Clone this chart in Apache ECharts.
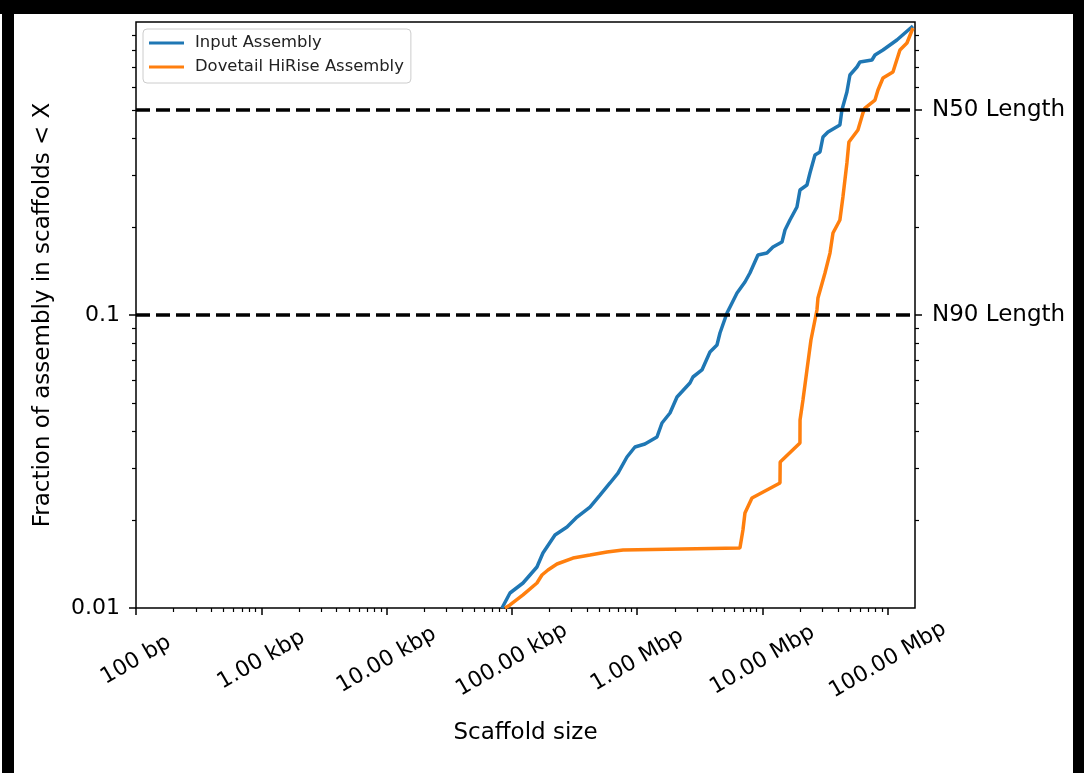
<!DOCTYPE html>
<html><head><meta charset="utf-8">
<script src="https://cdn.jsdelivr.net/npm/echarts@6/dist/echarts.min.js"></script>
<style>html,body{margin:0;padding:0;background:#fff;}#c{width:1084px;height:773px;}</style>
</head><body><div id="c"></div>
<script>
const seriesNames = ['Input Assembly', 'Dovetail HiRise Assembly'];
const inputSize = [83400, 96600, 122700, 158500, 177000, 220800, 275400, 331000, 420000, 505000, 607000, 703000, 829000, 960000, 1153000, 1439000, 1578000, 1828000, 2080000, 2637000, 2788000, 3289000, 3811000, 4335000, 4581000, 5212000, 5508000, 6266000, 7249000, 7943000, 9204000, 10860000, 12130000, 14320000, 15130000, 16570000, 18850000, 19920000, 22650000, 23940000, 26250000, 28780000, 30410000, 33340000, 41500000, 43060000, 47210000, 49890000, 56750000, 59980000, 74820000, 79070000, 91600000, 118300000, 137100000, 158900000];
const inputFrac = [0.0100, 0.01125, 0.01217, 0.0138, 0.01541, 0.01775, 0.0189, 0.02044, 0.02211, 0.0243, 0.02671, 0.02888, 0.03276, 0.03544, 0.03628, 0.03833, 0.0428, 0.0463, 0.0525, 0.05861, 0.06143, 0.06491, 0.07476, 0.079, 0.08682, 0.1016, 0.1065, 0.1189, 0.1296, 0.1391, 0.1602, 0.1627, 0.1706, 0.1774, 0.195, 0.211, 0.2337, 0.2671, 0.2778, 0.3052, 0.3517, 0.36, 0.4051, 0.4212, 0.4452, 0.5008, 0.5768, 0.6593, 0.7022, 0.7302, 0.7418, 0.7716, 0.8026, 0.868, 0.9173, 0.969];
const hiriseSize = [88100, 96600, 122700, 158500, 173800, 194100, 229100, 307400, 420000, 574100, 770900, 6610000, 6985000, 7249000, 8245000, 13800000, 13850000, 19920000, 19950000, 21050000, 22650000, 24380000, 27220000, 27730000, 31550000, 34590000, 36550000, 41500000, 43870000, 47210000, 48980000, 57810000, 63390000, 65770000, 79070000, 83560000, 91600000, 110000000, 125100000, 142300000, 158900000];
const hiriseFrac = [0.0100, 0.01024, 0.01108, 0.01217, 0.01296, 0.01348, 0.01413, 0.01481, 0.01516, 0.01553, 0.01578, 0.01603, 0.01846, 0.0211, 0.02374, 0.02671, 0.03148, 0.03657, 0.04382, 0.05128, 0.06491, 0.08216, 0.104, 0.1143, 0.1391, 0.1627, 0.1905, 0.211, 0.2527, 0.3303, 0.3894, 0.428, 0.4891, 0.5087, 0.5416, 0.5859, 0.6441, 0.6752, 0.8026, 0.848, 0.9539];
const xTickValues = [1e2, 1e3, 1e4, 1e5, 1e6, 1e7, 1e8];
const xTickLabels = ['100 bp', '1.00 kbp', '10.00 kbp', '100.00 kbp', '1.00 Mbp', '10.00 Mbp', '100.00 Mbp'];
const yTickValues = [0.01, 0.1];
const yTickLabels = ['0.01', '0.1'];
const refValues = [0.5, 0.1];
const refLabels = ['N50 Length', 'N90 Length'];
const xRange = [100, 1.65e8];
const yRange = [0.01, 1];

function minorTicks(loExp, hiExp, exclude) {
  const out = [];
  for (let e = loExp; e < hiExp; e++) {
    for (let k = 2; k <= 9; k++) {
      const v = k * Math.pow(10, e);
      if (!exclude || !exclude.some(x => Math.abs(Math.log10(x) - Math.log10(v)) < 1e-6)) out.push(v);
    }
  }
  return out;
}
function lookup(vals, labels) {
  return function (v) {
    for (let i = 0; i < vals.length; i++) {
      if (Math.abs(Math.log10(v) - Math.log10(vals[i])) < 1e-6) return labels[i];
    }
    return '';
  };
}
const FONT = 'DejaVu Sans';
const chart = echarts.init(document.getElementById('c'), null, {renderer: 'canvas'});
const baseX = {type: 'log', logBase: 10, min: xRange[0], max: xRange[1], position: 'bottom', gridIndex: 0,
  axisLine: {show: false}, splitLine: {show: false}, minorTick: {show: false}};
const baseY = {type: 'log', logBase: 10, min: yRange[0], max: yRange[1], gridIndex: 0,
  axisLine: {show: false}, splitLine: {show: false}, minorTick: {show: false}};
const option = {
  animation: false,
  backgroundColor: '#fff',
  textStyle: {fontFamily: FONT},
  grid: {left: 136, right: 169, top: 22, bottom: 165, show: true, borderColor: '#000', borderWidth: 1.5,
    backgroundColor: 'transparent', containLabel: false, outerBoundsMode: 'none'},
  legend: {
    data: seriesNames, orient: 'vertical', left: 143, top: 29,
    icon: 'rect', itemWidth: 35, itemHeight: 3, itemGap: 8,
    padding: [6, 7, 8, 6], borderColor: '#cccccc', borderWidth: 1, borderRadius: 4,
    backgroundColor: 'rgba(255,255,255,0.8)',
    textStyle: {fontFamily: FONT, fontSize: 16.4, color: '#222', lineHeight: 16, padding: [0, 0, 0, 6]}
  },
  xAxis: [
    Object.assign({}, baseX, {
      name: 'Scaffold size', nameLocation: 'middle', nameGap: 125,
      nameTextStyle: {fontFamily: FONT, fontSize: 23, color: '#000', align: 'center', verticalAlign: 'middle'},
      axisTick: {show: true, length: 7, lineStyle: {color: '#000', width: 1.5}, customValues: xTickValues},
      axisLabel: {show: true, customValues: xTickValues, formatter: lookup(xTickValues, xTickLabels),
        rotate: 30, align: 'center', verticalAlign: 'middle', margin: 52,
        fontFamily: FONT, fontSize: 22, color: '#000'}
    }),
    Object.assign({}, baseX, {
      axisTick: {show: true, length: 4, lineStyle: {color: '#000', width: 1.2}, customValues: minorTicks(2, 9)},
      axisLabel: {show: false}
    })
  ],
  yAxis: [
    Object.assign({}, baseY, {
      position: 'left',
      name: 'Fraction of assembly in scaffolds < X', nameLocation: 'middle', nameGap: 93, nameRotate: 90,
      nameTextStyle: {fontFamily: FONT, fontSize: 23, color: '#000', align: 'center', verticalAlign: 'middle'},
      axisTick: {show: true, length: 7, lineStyle: {color: '#000', width: 1.5}, customValues: yTickValues},
      axisLabel: {show: true, customValues: yTickValues, formatter: lookup(yTickValues, yTickLabels),
        margin: 16, fontFamily: FONT, fontSize: 22, color: '#000'}
    }),
    Object.assign({}, baseY, {
      position: 'left',
      axisTick: {show: true, length: 4, lineStyle: {color: '#000', width: 1.2}, customValues: minorTicks(-2, 0)},
      axisLabel: {show: false}
    }),
    Object.assign({}, baseY, {
      position: 'right',
      axisTick: {show: true, length: 7, lineStyle: {color: '#000', width: 1.5}, customValues: refValues},
      axisLabel: {show: true, customValues: refValues, formatter: lookup(refValues, refLabels),
        margin: 17, fontFamily: FONT, fontSize: 23, color: '#000'}
    }),
    Object.assign({}, baseY, {
      position: 'right',
      axisTick: {show: true, length: 4, lineStyle: {color: '#000', width: 1.2}, customValues: minorTicks(-2, 0, refValues)},
      axisLabel: {show: false}
    })
  ],
  graphic: [
    {type: 'rect', shape: {x: 0, y: 0, width: 1084, height: 14}, style: {fill: '#000'}, silent: true},
    {type: 'rect', shape: {x: 2, y: 0, width: 12, height: 773}, style: {fill: '#000'}, silent: true},
    {type: 'rect', shape: {x: 1073, y: 0, width: 11, height: 773}, style: {fill: '#000'}, silent: true}
  ],
  series: [
    {name: seriesNames[0], type: 'line', xAxisIndex: 0, yAxisIndex: 0, showSymbol: false, symbol: 'none',
      lineStyle: {color: '#1f77b4', width: 3.5}, itemStyle: {color: '#1f77b4'}, z: 2,
      data: inputSize.map((s, i) => [s, inputFrac[i]])},
    {name: seriesNames[1], type: 'line', xAxisIndex: 0, yAxisIndex: 0, showSymbol: false, symbol: 'none',
      lineStyle: {color: '#ff7f0e', width: 3.5}, itemStyle: {color: '#ff7f0e'}, z: 3,
      data: hiriseSize.map((s, i) => [s, hiriseFrac[i]]),
      markLine: {silent: true, symbol: ['none', 'none'], label: {show: false}, z: 4,
        lineStyle: {color: '#000', width: 3.5, type: [14, 6]},
        data: refValues.map(v => ({yAxis: v}))}}
  ]
};
chart.setOption(option);
</script></body></html>
